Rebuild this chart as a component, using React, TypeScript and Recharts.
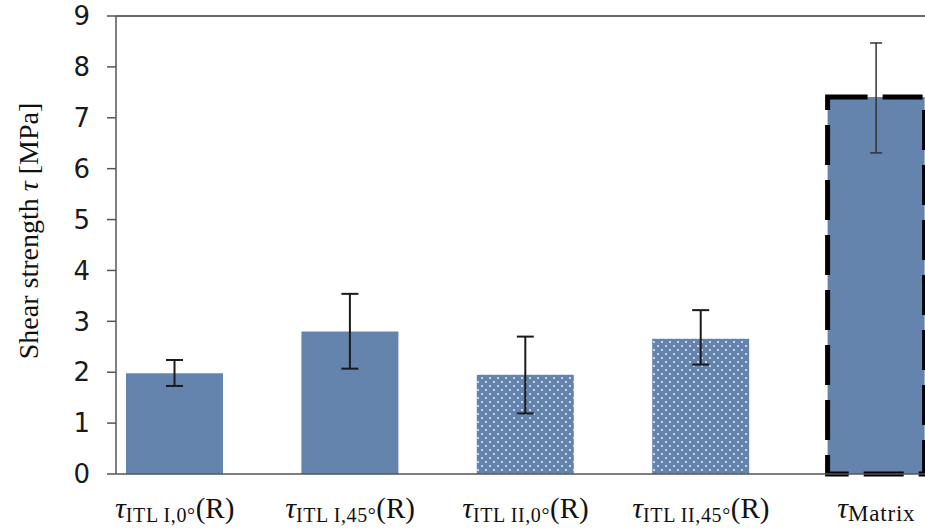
import React from "react";
import { BarChart, Bar, XAxis, YAxis, ErrorBar, Cell, ReferenceLine } from "recharts";

// Specimen groups (subscript of τ) and the suffix drawn after each
const groups = ["ITL I,0°", "ITL I,45°", "ITL II,0°", "ITL II,45°", "Matrix"];
const suffixes = ["(R)", "(R)", "(R)", "(R)", ""];
// Mean shear strength in MPa
const means = [1.98, 2.8, 1.95, 2.66, 7.41];
// Lower and upper ends of the scatter bands in MPa
const lows = [1.73, 2.07, 1.19, 2.15, 6.31];
const highs = [2.24, 3.54, 2.7, 3.22, 8.47];
// Fill style per group
const dotted = [false, false, true, true, false];
const dashedOutline = [false, false, false, false, true];
const yTicks = [0, 1, 2, 3, 4, 5, 6, 7, 8, 9];

const BAR = "#6584ad";
const SERIF = "'Liberation Serif', 'DejaVu Serif', serif";

const data = groups.map((g, i) => {
  const err: [number, number] = [means[i] - lows[i], highs[i] - means[i]];
  return {
    group: g,
    mean: means[i],
    errGroup: dashedOutline[i] ? undefined : err,
    errMatrix: dashedOutline[i] ? err : undefined,
  };
});

const GroupTick = (props: any) => {
  const { x, y, payload } = props;
  const i = payload.index;
  const plain = !suffixes[i];
  return (
    <text x={x} y={y + 36} textAnchor="middle" fontFamily={SERIF} fill="#111">
      <tspan fontStyle="italic" fontSize={30}>τ</tspan>
      <tspan
        fontSize={plain ? 23 : 20}
        letterSpacing={plain ? 0.8 : 0.6}
        dy={plain ? 3 : 4}
      >
        {groups[i]}
      </tspan>
      {suffixes[i] ? (
        <tspan fontSize={29} dy={-4}>{suffixes[i]}</tspan>
      ) : null}
    </text>
  );
};

const YTitle = () => (
  <text
    x={28}
    y={231}
    transform="rotate(-90 28 231)"
    textAnchor="middle"
    dominantBaseline="central"
    fontFamily={SERIF}
    fontSize={28}
    fill="#111"
  >
    Shear strength <tspan fontStyle="italic">τ</tspan> [MPa]
  </text>
);

export default function App() {
  return (
    <div
      style={{
        position: "fixed",
        left: 0,
        top: 0,
        width: 925,
        height: 530,
        overflow: "hidden",
        background: "#fff",
      }}
    >
      <BarChart
        width={975}
        height={530}
        data={data}
        margin={{ top: 16, right: 11, bottom: 0, left: 0 }}
        barSize={97}
      >
        <defs>
          <pattern id="dots" width="8" height="8" patternUnits="userSpaceOnUse">
            <rect width="8" height="8" fill={BAR} />
            <rect x="1" y="1" width="2" height="2" fill="#c9d5e6" />
            <rect x="5" y="5" width="2" height="2" fill="#c9d5e6" />
          </pattern>
        </defs>
        <ReferenceLine y={9} stroke="#666" strokeWidth={2} />
        <XAxis
          dataKey="group"
          height={56}
          padding={{ left: -29, right: 0 }}
          axisLine={{ stroke: "#555", strokeWidth: 1.5 }}
          tickLine={false}
          interval={0}
          tick={<GroupTick />}
        />
        <YAxis
          width={116}
          domain={[0, 9]}
          ticks={yTicks}
          interval={0}
          axisLine={{ stroke: "#555", strokeWidth: 1.5 }}
          tickLine={{ stroke: "#555", strokeWidth: 1.5 }}
          tickSize={9}
          tickMargin={17}
          tick={{ fill: "#1a1a1a", fontSize: 26, fontFamily: "'DejaVu Sans', sans-serif" }}
          label={<YTitle />}
        />
        <Bar dataKey="mean" isAnimationActive={false}>
          {data.map((_, i) => (
            <Cell
              key={i}
              fill={dotted[i] ? "url(#dots)" : BAR}
              stroke={dashedOutline[i] ? "#000" : "none"}
              strokeWidth={dashedOutline[i] ? 5 : 0}
              strokeDasharray={dashedOutline[i] ? "40 15" : undefined}
            />
          ))}
          <ErrorBar dataKey="errGroup" width={8.5} stroke="#1a1a1a" strokeWidth={2} isAnimationActive={false} />
          <ErrorBar dataKey="errMatrix" width={6} stroke="#333" strokeWidth={1.5} isAnimationActive={false} />
        </Bar>
      </BarChart>
    </div>
  );
}
